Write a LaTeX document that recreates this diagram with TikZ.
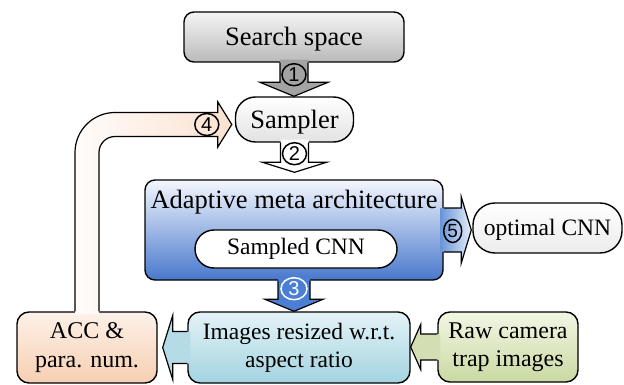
\documentclass[tikz,border=0pt]{standalone}
\usepackage{fontspec}
\setmainfont{Liberation Serif}
\newfontfamily\numfont{Liberation Sans}
\usetikzlibrary{calc,shapes.geometric}

\definecolor{ssTop}{HTML}{F5F5F5}
\definecolor{ssBot}{HTML}{BABABA}
\definecolor{arrGray}{HTML}{A3A3A3}
\definecolor{samBot}{HTML}{E2E2E2}
\definecolor{amaTop}{HTML}{F4F7FD}
\definecolor{amaBot}{HTML}{4878CC}
\definecolor{arrBlue}{HTML}{4A7FD4}
\definecolor{arrBlueL}{HTML}{E6EDF9}
\definecolor{arrBlueD}{HTML}{6A96D8}
\definecolor{optBot}{HTML}{ECECEC}
\definecolor{imgTop}{HTML}{E4F3F7}
\definecolor{imgBot}{HTML}{A3D3E0}
\definecolor{accTop}{HTML}{FDF1E8}
\definecolor{accBot}{HTML}{F6CFB2}
\definecolor{rawTop}{HTML}{F2F6E4}
\definecolor{rawBot}{HTML}{CAD9A3}
\definecolor{arrCyan}{HTML}{B5DBE6}
\definecolor{arrGreen}{HTML}{D3DFB3}
\definecolor{fbLeft}{HTML}{FFFCFA}
\definecolor{fbRight}{HTML}{FBE2D0}

\tikzset{
  box/.style={draw=black, line width=1.4pt, rounded corners=#1, inner sep=0pt},
  box/.default=10pt,
  onebig/.style={text height=18pt, text depth=0pt},
  onesmall/.style={text height=15pt, text depth=0pt},
  bigfont/.style={font=\fontsize{26.5}{30}\selectfont},
  midfont/.style={font=\fontsize{24}{28.5}\selectfont},
  smallfont/.style={font=\fontsize{23.5}{28}\selectfont},
  num/.style={ellipse, draw=black, line width=1.5pt, inner sep=0pt, minimum width=24pt,
    minimum height=22pt, font=\numfont\fontsize{20}{20}\selectfont},
  arrline/.style={draw=black, line width=1.2pt, line join=miter},
}

% vertical block arrow: #1 start, #2 tip, #3 fill opts, #4 shaft half width, #5 head half width, #6 head length
\newcommand\blockarrowdown[6]{%
  \path[#3] let \p1=(#1), \p2=(#2) in
    ({\x1-#4},{\y1+3pt}) -- ({\x1+#4},{\y1+3pt}) -- ({\x1+#4},{\y2+#6}) -- ({\x1+#5},{\y2+#6})
    -- (\x1,\y2) -- ({\x1-#5},{\y2+#6}) -- ({\x1-#4},{\y2+#6}) -- cycle;
  \draw[arrline] let \p1=(#1), \p2=(#2) in
    ({\x1-#4},\y1) -- ({\x1-#4},{\y2+#6}) -- ({\x1-#5},{\y2+#6}) -- (\x1,\y2)
    -- ({\x1+#5},{\y2+#6}) -- ({\x1+#4},{\y2+#6}) -- ({\x1+#4},\y1);
}
% horizontal block arrow: #7 = 1 (right) or -1 (left)
\newcommand\blockarrowh[7]{%
  \path[#3] let \p1=(#1), \p2=(#2) in
    ({\x1-(#7)*3pt},{\y1+#4}) -- ({\x2-(#7)*#6},{\y1+#4}) -- ({\x2-(#7)*#6},{\y1+#5}) -- (\x2,\y1)
    -- ({\x2-(#7)*#6},{\y1-#5}) -- ({\x2-(#7)*#6},{\y1-#4}) -- ({\x1-(#7)*3pt},{\y1-#4}) -- cycle;
  \draw[arrline] let \p1=(#1), \p2=(#2) in
    (\x1,{\y1+#4}) -- ({\x2-(#7)*#6},{\y1+#4}) -- ({\x2-(#7)*#6},{\y1+#5}) -- (\x2,\y1)
    -- ({\x2-(#7)*#6},{\y1-#5}) -- ({\x2-(#7)*#6},{\y1-#4}) -- (\x1,{\y1-#4});
}

\begin{document}
\begin{tikzpicture}[x=1pt,y=-1pt]
\useasboundingbox (0,0) rectangle (624,385);

% boxes
\node[box, minimum width=220pt, minimum height=50pt, top color=ssTop, bottom color=ssBot,
  bigfont, onebig] (ss) at (294,37) {Search space};
\node[box=20pt, minimum width=118pt, minimum height=45pt, top color=white, bottom color=samBot,
  bigfont, onebig] (sam) at (294.5,119.5) {Sampler};
\node[box, minimum width=298pt, minimum height=100pt, top color=amaTop, bottom color=amaBot]
  (ama) at (294,230) {};
\node[bigfont, anchor=base, inner sep=0pt] (amat) at ($(ama.north)+(0,29)$) {Adaptive meta architecture};
\node[box=19pt, minimum width=202pt, minimum height=38pt, fill=white, smallfont]
  (scnn) at (296,249) {Sampled CNN};
\node[box=22pt, minimum width=149pt, minimum height=50pt, top color=white, bottom color=optBot,
  smallfont, onesmall] (opt) at (547.5,228) {optimal CNN};
\node[box=12pt, minimum width=222pt, minimum height=71pt, top color=imgTop, bottom color=imgBot,
  align=center, smallfont] (img) at (299,347.5) {Images resized w.r.t.\\aspect ratio};
\node[box=12pt, minimum width=140pt, minimum height=71pt, top color=accTop, bottom color=accBot,
  align=center, midfont] (acc) at (87,347.5) {ACC \&\\para. num.};
\node[box=12pt, minimum width=140pt, minimum height=70pt, top color=rawTop, bottom color=rawBot,
  align=center, midfont] (raw) at (508,347) {Raw camera\\trap images};

% arrows
\blockarrowdown{ss.south}{sam.north}{fill=arrGray}{14pt}{34pt}{14pt}
\blockarrowdown{sam.south}{[yshift=7pt]ama.north}{fill=white}{14pt}{32pt}{10pt}
\blockarrowdown{ama.south}{img.north}{fill=arrBlue}{16pt}{29pt}{12pt}
\blockarrowh{ama.east}{[xshift=-1pt]opt.west}{left color=arrBlueD, right color=arrBlueL}{22pt}{33pt}{10pt}{1}
\blockarrowh{img.west}{[xshift=5pt]acc.east}{fill=arrCyan}{16pt}{32pt}{10pt}{-1}
\blockarrowh{raw.west}{img.east}{fill=arrGreen}{13pt}{22.5pt}{10pt}{-1}

% feedback arrow
\path[left color=fbLeft, right color=fbRight] let \p1=(acc.north), \p2=([yshift=-5pt]sam.west) in
  ({\x1-12pt},{\y1-3pt}) -- ({\x1-12pt},{\y2-28pt})
  .. controls ({\x1-12pt},{\y2-5.91pt}) and ({\x1+5.91pt},{\y2+12pt}) .. ({\x1+28pt},{\y2+12pt})
  -- ({\x2-17pt},{\y2+12pt}) -- ({\x2-17pt},{\y2+22.5pt}) -- ({\x2-3pt},\y2) -- ({\x2-17pt},{\y2-22.5pt})
  -- ({\x2-17pt},{\y2-12pt}) -- ({\x1+28pt},{\y2-12pt})
  .. controls ({\x1+19.16pt},{\y2-12pt}) and ({\x1+12pt},{\y2-19.16pt}) .. ({\x1+12pt},{\y2-28pt})
  -- ({\x1+12pt},{\y1-3pt}) -- cycle;
\draw[arrline] let \p1=(acc.north), \p2=([yshift=-5pt]sam.west) in
  ({\x1-12pt},\y1) -- ({\x1-12pt},{\y2-28pt})
  .. controls ({\x1-12pt},{\y2-5.91pt}) and ({\x1+5.91pt},{\y2+12pt}) .. ({\x1+28pt},{\y2+12pt})
  -- ({\x2-17pt},{\y2+12pt}) -- ({\x2-17pt},{\y2+22.5pt}) -- ({\x2-3pt},\y2) -- ({\x2-17pt},{\y2-22.5pt})
  -- ({\x2-17pt},{\y2-12pt}) -- ({\x1+28pt},{\y2-12pt})
  .. controls ({\x1+19.16pt},{\y2-12pt}) and ({\x1+12pt},{\y2-19.16pt}) .. ({\x1+12pt},{\y2-28pt})
  -- ({\x1+12pt},\y1);

% numbers
\node[num] (c1) at ([yshift=-12pt]ss.south) {1};
\node[num] (c2) at ([yshift=-11pt]sam.south) {2};
\node[num, draw=white, text=white, minimum width=26pt] (c3) at ([yshift=-8pt]ama.south) {3};
\node[num] (c4) at ([xshift=-28pt,yshift=-5pt]sam.west) {4};
\node[num, minimum width=18pt, minimum height=23pt, font=\numfont\fontsize{19}{19}\selectfont] (c5) at ([xshift=9pt,yshift=-1pt]ama.east) {5};
\end{tikzpicture}
\end{document}
